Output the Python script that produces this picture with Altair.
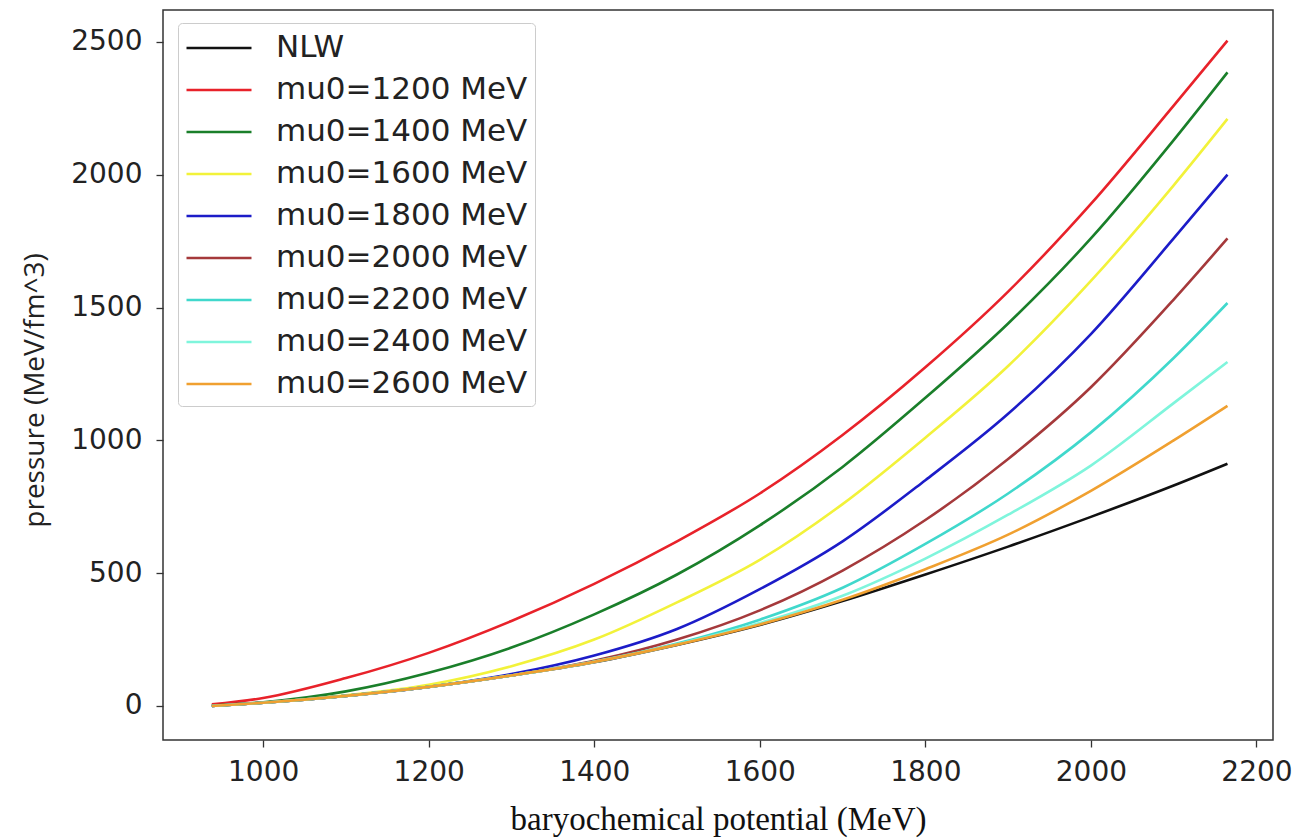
import altair as alt
import pandas as pd

# baryochemical potential grid (MeV)
mu = [938, 1000, 1100, 1200, 1300, 1400, 1500, 1600, 1700, 1800, 1900, 2000, 2100, 2165]

series_names = ["NLW", "mu0=1200 MeV", "mu0=1400 MeV", "mu0=1600 MeV", "mu0=1800 MeV",
                "mu0=2000 MeV", "mu0=2200 MeV", "mu0=2400 MeV", "mu0=2600 MeV"]
series_colors = ["#111111", "#e8222a", "#1a7f2a", "#f2f23a", "#1c1cc8",
                 "#a5393b", "#40d8cc", "#7ff5dc", "#f0a030"]

# pressure (MeV/fm^3)
p_nlw = [0, 12, 38, 72, 115, 165, 230, 305, 395, 495, 600, 712, 830, 912]
p_1200 = [6, 30, 105, 200, 320, 460, 620, 800, 1020, 1275, 1560, 1890, 2260, 2505]
p_1400 = [2, 14, 55, 125, 220, 345, 495, 680, 900, 1160, 1440, 1760, 2130, 2385]
p_1600 = [1, 12, 40, 80, 150, 250, 390, 550, 760, 1010, 1280, 1600, 1960, 2210]
p_1800 = [0, 12, 38, 72, 120, 190, 290, 440, 620, 850, 1100, 1400, 1760, 2000]
p_2000 = [0, 12, 38, 72, 115, 170, 250, 360, 510, 700, 930, 1200, 1530, 1760]
p_2200 = [0, 12, 38, 72, 115, 167, 235, 325, 445, 610, 800, 1030, 1310, 1517]
p_2400 = [0, 12, 38, 72, 115, 166, 232, 312, 415, 555, 720, 905, 1140, 1295]
p_2600 = [0, 12, 38, 72, 115, 166, 231, 307, 400, 515, 645, 810, 1000, 1130]

all_p = [p_nlw, p_1200, p_1400, p_1600, p_1800, p_2000, p_2200, p_2400, p_2600]

rows = []
for k, (name, vals) in enumerate(zip(series_names, all_p)):
    for m, p in zip(mu, vals):
        rows.append({"mu": m, "p": p, "series": name, "k": k})
df = pd.DataFrame(rows)

x_ticks = [1000, 1200, 1400, 1600, 1800, 2000, 2200]
y_ticks = [0, 500, 1000, 1500, 2000, 2500]

chart = alt.Chart(df).mark_line(strokeWidth=2.6, interpolate="monotone").encode(
    x=alt.X("mu:Q",
            scale=alt.Scale(domain=[879, 2220], nice=False, zero=False),
            axis=alt.Axis(values=x_ticks, title="baryochemical potential (MeV)",
                          titleFont="Liberation Serif", titleFontSize=33, titleFontWeight="normal",
                          titleColor="#111", titleY=79, titleBaseline="middle",
                          labelFont="DejaVu Sans", labelFontSize=28, labelColor="#222",
                          labelPadding=11, tickSize=7, tickColor="#333", tickWidth=1.3,
                          domain=False, grid=False, format="d", labelFlush=False)),
    y=alt.Y("p:Q",
            scale=alt.Scale(domain=[-128, 2620], nice=False, zero=False),
            axis=alt.Axis(values=y_ticks, title="pressure (MeV/fm^3)",
                          titleFont="Open Sans", titleFontSize=28, titleFontWeight="normal",
                          titleColor="#222", titleX=-128, titleY=380, titleAngle=270,
                          titleAlign="center", titleBaseline="middle",
                          labelFont="DejaVu Sans", labelFontSize=28, labelColor="#222",
                          labelPadding=14, tickSize=7, tickColor="#333", tickWidth=1.3,
                          domain=False, grid=False, format="d", labelFlush=False)),
    color=alt.Color("series:N",
                    scale=alt.Scale(domain=series_names, range=series_colors),
                    legend=alt.Legend(orient="none", legendX=15, legendY=13, title=None,
                                      fillColor="white", strokeColor="#cccccc", cornerRadius=4,
                                      padding=7, labelFont="DejaVu Sans", labelFontSize=31,
                                      labelLimit=500, labelColor="#222",
                                      symbolType="M-2,0L2,0", symbolSize=1056,
                                      symbolStrokeWidth=2.6, symbolOffset=16, labelOffset=39,
                                      rowPadding=9)),
    order=alt.Order("k:Q"),
).properties(
    width=1110, height=730,
    padding={"left": 163, "top": 10, "right": 20, "bottom": 98},
    autosize=alt.AutoSizeParams(type="none"),
    background="white",
).configure_view(stroke="#333333", strokeWidth=1.5)

chart.save("out.html", embed_options={"renderer": "svg", "actions": False})
